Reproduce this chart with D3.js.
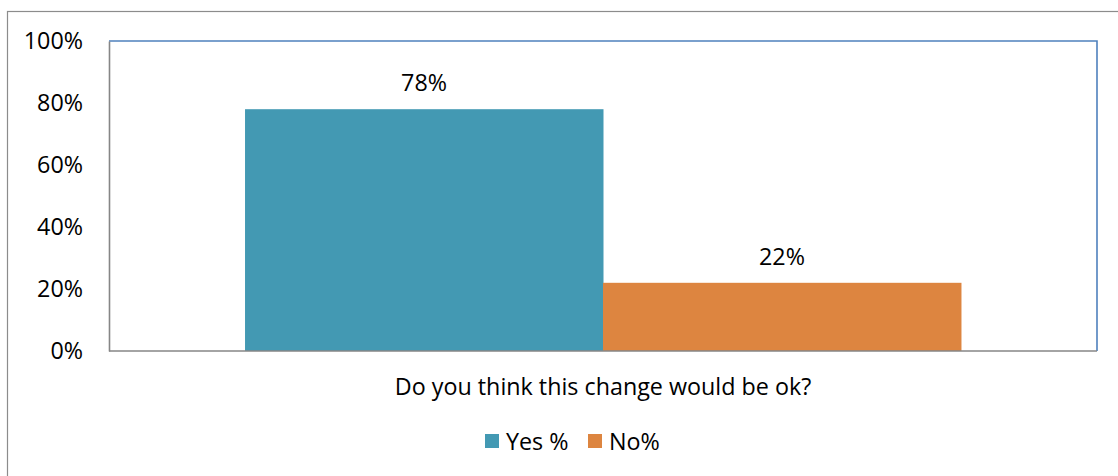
<!DOCTYPE html>
<html>
<head>
<meta charset="utf-8">
<script src="https://cdn.jsdelivr.net/npm/d3@7"></script>
<style>
  html, body { margin: 0; padding: 0; background: #fff; }
  svg { display: block; }
  text { font-family: "Open Sans", Lato, sans-serif; fill: #000; }
</style>
</head>
<body>
<svg id="chart" width="1118" height="476"></svg>
<script>
// Survey result: one question, two answer shares
const category = "Do you think this change would be ok?";
const seriesNames = ["Yes %", "No%"];
const seriesValues = [0.78, 0.22];
const seriesColors = ["#4399b3", "#dd8540"];
const yTicks = [0, 0.2, 0.4, 0.6, 0.8, 1.0];

const FONT = "'Open Sans', Lato, sans-serif";
const FS = 23.3;

const svg = d3.select("#chart");
const W = 1118, H = 476;

// Chart frame (extends past the right/bottom edge)
svg.append("rect")
  .attr("x", 7.5).attr("y", 11.5)
  .attr("width", W + 10).attr("height", H + 10)
  .attr("fill", "none").attr("stroke", "#8c8c8c").attr("stroke-width", 1.2);

const plot = { left: 109, top: 41, right: 1097, bottom: 351 };

const y = d3.scaleLinear().domain([0, 1]).range([plot.bottom, plot.top]);

// Outer band for the single category, inner band for series
const x0 = d3.scaleBand().domain([category]).range([plot.left, plot.right]).paddingInner(0).paddingOuter(0.19);
const x1 = d3.scaleBand().domain(seriesNames).range([0, x0.bandwidth()]).padding(0);

// Plot area: blue top/right border
svg.append("path")
  .attr("d", `M${plot.left},${plot.top}H${plot.right}V${plot.bottom}`)
  .attr("fill", "none").attr("stroke", "#4f81bd").attr("stroke-width", 1.6);

// Bars
const g = svg.append("g").attr("transform", `translate(${x0(category)},0)`);
g.selectAll("rect.bar")
  .data(seriesNames.map((n, i) => ({ name: n, value: seriesValues[i], color: seriesColors[i] })))
  .join("rect")
  .attr("class", "bar")
  .attr("x", d => x1(d.name))
  .attr("y", d => y(d.value))
  .attr("width", x1.bandwidth() + 0.5)
  .attr("height", d => y(0) - y(d.value))
  .attr("fill", d => d.color);

// Value labels
g.selectAll("text.val")
  .data(seriesNames.map((n, i) => ({ name: n, value: seriesValues[i] })))
  .join("text")
  .attr("class", "val")
  .attr("x", d => x1(d.name) + x1.bandwidth() / 2)
  .attr("y", d => y(d.value) - 18)
  .attr("text-anchor", "middle")
  .attr("font-size", FS)
  .text(d => d3.format(".0%")(d.value));

// Y axis
const yAxis = d3.axisLeft(y).tickValues(yTicks).tickFormat(d3.format(".0%")).tickSize(0).tickPadding(26);
const ya = svg.append("g").attr("transform", `translate(${plot.left},0)`).call(yAxis);
ya.select(".domain").attr("stroke", "#868686").attr("stroke-width", 1.6);
ya.selectAll("text").attr("font-size", FS).attr("font-family", FONT).attr("fill", "#000");

// X axis
const xAxis = d3.axisBottom(x0).tickSize(0).tickPadding(27);
const xa = svg.append("g").attr("transform", `translate(0,${plot.bottom})`).call(xAxis);
xa.select(".domain").attr("stroke", "#868686").attr("stroke-width", 1.6)
  .attr("d", `M${plot.left},0H${plot.right}`);
xa.selectAll("text").attr("font-size", FS).attr("font-family", FONT).attr("fill", "#000");

// Legend
const legendItems = [
  { name: seriesNames[0], color: seriesColors[0], x: 485 },
  { name: seriesNames[1], color: seriesColors[1], x: 588 }
];
const lg = svg.append("g");
legendItems.forEach(it => {
  lg.append("rect").attr("x", it.x).attr("y", 434).attr("width", 14).attr("height", 14).attr("fill", it.color);
  lg.append("text").attr("x", it.x + 21).attr("y", 449.5).attr("font-size", FS).text(it.name);
});
</script>
</body>
</html>
